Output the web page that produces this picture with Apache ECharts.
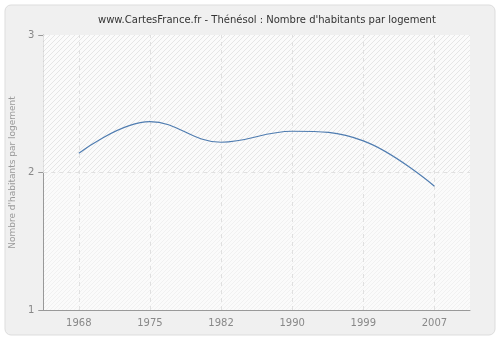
<!DOCTYPE html>
<html>
<head>
<meta charset="utf-8">
<script src="https://cdn.jsdelivr.net/npm/echarts@6/dist/echarts.min.js"></script>
<style>
    html, body { margin: 0; padding: 0; background: #ffffff; }
    #chart { width: 500px; height: 340px; }
</style>
</head>
<body>
<div id="chart"></div>
<script>
var years = ["1968", "1975", "1982", "1990", "1999", "2007"];
var values = [2.14, 2.37, 2.22, 2.30, 2.23, 1.90];
var yTicks = [1, 2, 3];

// motif hachuré du fond
function hatch(color, size) {
    var c = document.createElement("canvas");
    c.width = size;
    c.height = size;
    var ctx = c.getContext("2d");
    ctx.fillStyle = "#fbfbfb";
    ctx.fillRect(0, 0, size, size);
    ctx.strokeStyle = color;
    ctx.lineWidth = 1;
    ctx.beginPath();
    ctx.moveTo(0, size);
    ctx.lineTo(size, 0);
    ctx.moveTo(-size / 2, size / 2);
    ctx.lineTo(size / 2, -size / 2);
    ctx.moveTo(size / 2, size * 1.5);
    ctx.lineTo(size * 1.5, size / 2);
    ctx.stroke();
    return c;
}

var myChart = echarts.init(document.getElementById("chart"));

var option = {
    backgroundColor: "#ffffff",
    animation: false,
    graphic: [
        {
            type: "rect",
            shape: { x: 5, y: 5, width: 490, height: 330, r: 6 },
            style: { fill: "#f0f0f0", stroke: "#dddddd", lineWidth: 1 },
            z: -10,
        },
    ],
    title: {
        text: "www.CartesFrance.fr - Thénésol : Nombre d'habitants par logement",
        left: 93,
        top: 10,
        textStyle: {
            fontFamily: "DejaVu Sans",
            fontSize: 10,
            fontWeight: "normal",
            color: "#333333",
        },
    },
    grid: {
        left: 40,
        right: 30,
        top: 35,
        bottom: 30,
        show: true,
        borderWidth: 0,
        backgroundColor: { image: hatch("#f1f1f1", 4), repeat: "repeat" },
    },
    xAxis: {
        type: "category",
        data: years,
        boundaryGap: true,
        axisLine: { lineStyle: { color: "#999999" } },
        axisTick: { alignWithLabel: true, length: 5, lineStyle: { color: "#999999" } },
        axisLabel: {
            color: "#888888",
            fontFamily: "DejaVu Sans",
            fontSize: 10,
            margin: 8,
        },
        splitLine: { show: false },
    },
    yAxis: {
        type: "value",
        min: 1,
        max: 3,
        interval: 1,
        name: "Nombre d'habitants par logement",
        nameLocation: "middle",
        nameGap: 25,
        nameTextStyle: {
            color: "#999999",
            fontFamily: "DejaVu Sans",
            fontSize: 9,
        },
        axisLine: { show: true, lineStyle: { color: "#999999" } },
        axisTick: { show: true, length: 5, lineStyle: { color: "#999999" } },
        axisLabel: {
            color: "#888888",
            fontFamily: "DejaVu Sans",
            fontSize: 10,
            margin: 9,
        },
        splitLine: { show: false },
    },
    series: [
        {
            name: "Nombre d'habitants par logement",
            type: "line",
            smooth: 0.4,
            symbol: "none",
            lineStyle: { color: "#4f7cb0", width: 1.2 },
            data: values,
            z: 5,
            markArea: {
                silent: true,
                itemStyle: { color: { image: hatch("#e6e6e6", 5), repeat: "repeat" } },
                data: [[{ yAxis: yTicks[1] }, { yAxis: yTicks[2] }]],
            },
            markLine: {
                silent: true,
                symbol: "none",
                label: { show: false },
                lineStyle: { color: "#e0e0e0", type: [4, 4], width: 1 },
                data: years
                    .map(function (y) {
                        return { xAxis: y };
                    })
                    .concat([{ yAxis: yTicks[1] }]),
            },
        },
    ],
};

myChart.setOption(option);
window.addEventListener("resize", function () {
    myChart.resize();
});
</script>
</body>
</html>
